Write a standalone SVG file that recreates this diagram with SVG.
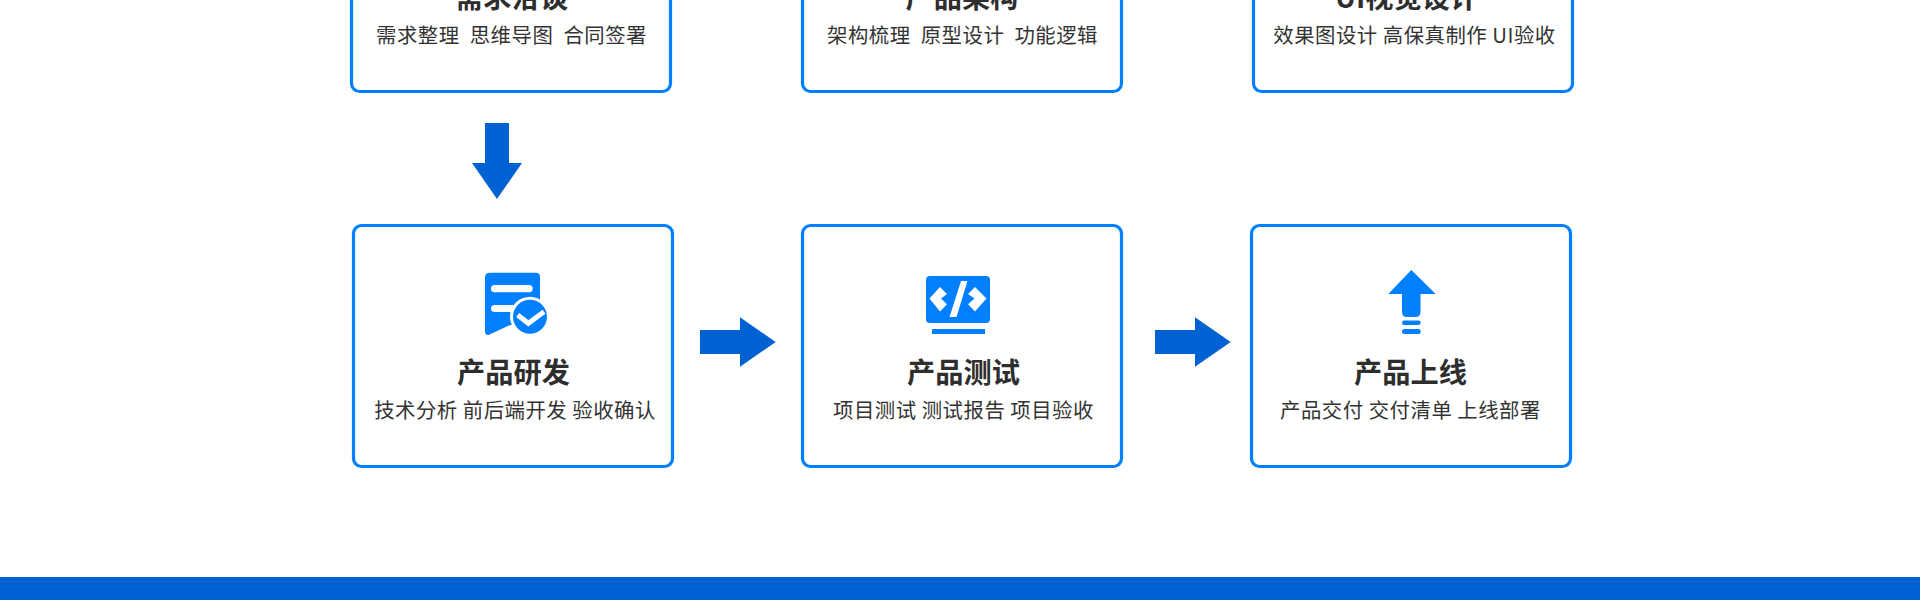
<svg xmlns="http://www.w3.org/2000/svg" width="1920" height="600" viewBox="0 0 1920 600">
<style>
text{font-family:"Noto Sans CJK SC","Noto Sans",sans-serif;text-anchor:middle;white-space:pre;fill:#2e2e2e}
.t{font-size:28.2px;font-weight:700}
.s{font-size:20.4px;letter-spacing:.5px;fill:#333}
.b{fill:#fff;stroke:#007fff;stroke-width:3.200}
.i{fill:#007fff}
.w{fill:#fff}
.a{fill:#0062d2}
</style>
<defs>
<path id="ar" d="M700 330H740V317.3L775.7 342 740 366.7V354H700Z"/>
</defs>
<rect width="1920" height="600" fill="#fff"/>
<g id="n1"><rect class="b" x="351.5" y="-60" width="319" height="151.500" rx="8"/>
<text class="t" x="511.500" y="7.500">需求洽谈</text><text class="s" x="511.500" y="43" xml:space="preserve">需求整理  思维导图  合同签署</text></g>
<g id="n2"><rect class="b" x="802.500" y="-60" width="319" height="151.500" rx="8"/>
<text class="t" x="962" y="7.500">产品架构</text><text class="s" x="962.500" y="43" xml:space="preserve">架构梳理  原型设计  功能逻辑</text></g>
<g id="n3"><rect class="b" x="1253.500" y="-60" width="319" height="151.500" rx="8"/>
<text class="t" x="1406.500" y="7.500">UI视觉设计</text><text class="s" x="1414.500" y="43">效果图设计 高保真制作 UI验收</text></g>
<g id="n4"><rect class="b" x="353.500" y="225.500" width="319" height="241" rx="8"/>
<path class="i" d="M490 272.700H536Q540 272.700 540 276.700V325H510L489 334.800Q485 335.500 485 331V277.700Q485 272.700 490 272.700Z"/>
<rect class="w" x="491" y="285" width="41.700" height="7.300" rx="3.600"/><rect class="w" x="491" y="305" width="26" height="7" rx="3.500"/>
<circle class="w" cx="530" cy="316.700" r="20"/><circle class="i" cx="530" cy="316.700" r="17"/>
<path d="M517.700 315 528.300 323.300 544 311.700" fill="none" stroke="#fff" stroke-width="5"/>
<text class="t" x="513.500" y="383">产品研发</text><text class="s" x="515" y="418">技术分析 前后端开发 验收确认</text></g>
<g id="n5"><rect class="b" x="802.500" y="225.500" width="319" height="241" rx="8"/>
<rect class="i" x="926" y="276" width="64" height="47" rx="4"/><rect class="i" x="932" y="329" width="53" height="5"/>
<path class="w" d="M940 287 947 294 941 298.500 947 304.300 940 311.500 929.500 298.500ZM975 287 968 294 974.500 298.500 968 304.300 975 311.500 986.500 298.500ZM961 281H967.500L956.500 317H949.500Z"/>
<text class="t" x="963.500" y="383">产品测试</text><text class="s" x="963.500" y="418">项目测试 测试报告 项目验收</text></g>
<g id="n6"><rect class="b" x="1251.500" y="225.500" width="319" height="241" rx="8"/>
<path class="i" d="M1411.300 270 1435.700 294H1420.500V312Q1420.500 317 1415.500 317H1407Q1402 317 1402 312V294H1388.300Z"/>
<rect class="i" x="1402" y="320.500" width="18.700" height="4.500" rx="2.200"/><rect class="i" x="1402" y="329" width="18.700" height="5" rx="2.500"/>
<text class="t" x="1410.500" y="383">产品上线</text><text class="s" x="1410.500" y="418">产品交付 交付清单 上线部署</text></g>
<g id="connectors">
<path class="a" d="M485 123H509V163H522L497 199 472 163H485Z"/>
<use href="#ar" class="a"/>
<use href="#ar" class="a" x="455"/>
</g>
<rect id="footer" class="a" y="577" width="1920" height="23"/>
</svg>
